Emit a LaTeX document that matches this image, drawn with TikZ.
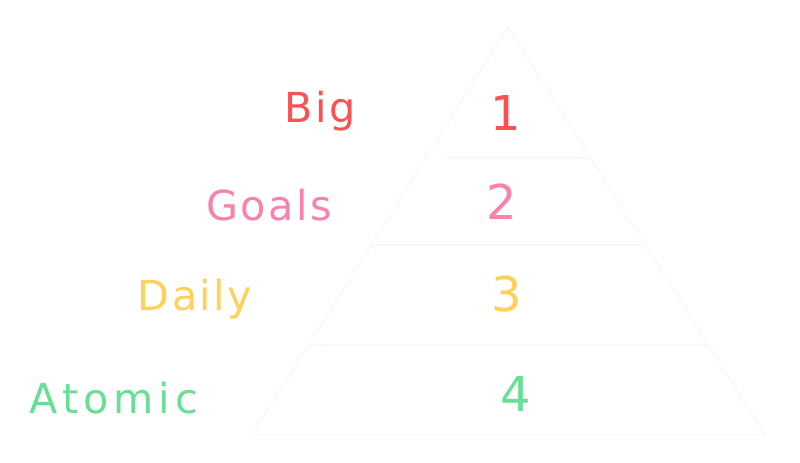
\documentclass[tikz,border=0pt]{standalone}
\usepackage{fontspec}
\setmainfont[LetterSpace=6]{DejaVu Sans}
\newfontfamily\widefont[LetterSpace=12]{DejaVu Sans}
\definecolor{cred}{RGB}{250,82,82}
\definecolor{cpink}{RGB}{247,131,172}
\definecolor{cyellow}{RGB}{255,208,90}
\definecolor{cgreen}{RGB}{105,222,150}
\definecolor{faint}{RGB}{245,250,242}
\tikzset{
  lbl/.style={anchor=base, inner sep=0pt, font=\fontsize{31}{36}\selectfont},
  num/.style={anchor=base, inner sep=0pt, font=\fontsize{36}{40}\selectfont},
  edge/.style={draw=faint, line width=0.8pt, line cap=round, line join=round}
}
\begin{document}
\begin{tikzpicture}[x=0.75pt,y=-0.75pt]
\useasboundingbox (0,0) rectangle (800,462);
\fill[white] (0,0) rectangle (800,462);
% pyramid
\coordinate (apex) at (508,27);
\coordinate (bl) at (252,435);
\coordinate (br) at (765,435);
\coordinate (l1a) at (447,158); \coordinate (l1b) at (590,158);
\coordinate (l2a) at (373,245); \coordinate (l2b) at (643,245);
\coordinate (l3a) at (308,345); \coordinate (l3b) at (707,345);
\draw[edge] (bl) -- (apex) -- (br) -- cycle;
\draw[edge] (l1a) -- (l1b);
\draw[edge] (l2a) -- (l2b);
\draw[edge] (l3a) -- (l3b);
% labels
\node[lbl, text=cred] (big) at (320,122) {Big};
\node[lbl, text=cpink] (goals) at (269,220) {Goals};
\node[lbl, text=cyellow] (daily) at (195,310) {Daily};
\node[lbl, text=cgreen] (atomic) at (114,413) {\widefont Atomic};
\node[num, text=cred] (n1) at (506,130) {1};
\node[num, text=cpink] (n2) at (502,219) {2};
\node[num, text=cyellow] (n3) at (507,311) {3};
\node[num, text=cgreen] (n4) at (516,411) {4};
\end{tikzpicture}
\end{document}
